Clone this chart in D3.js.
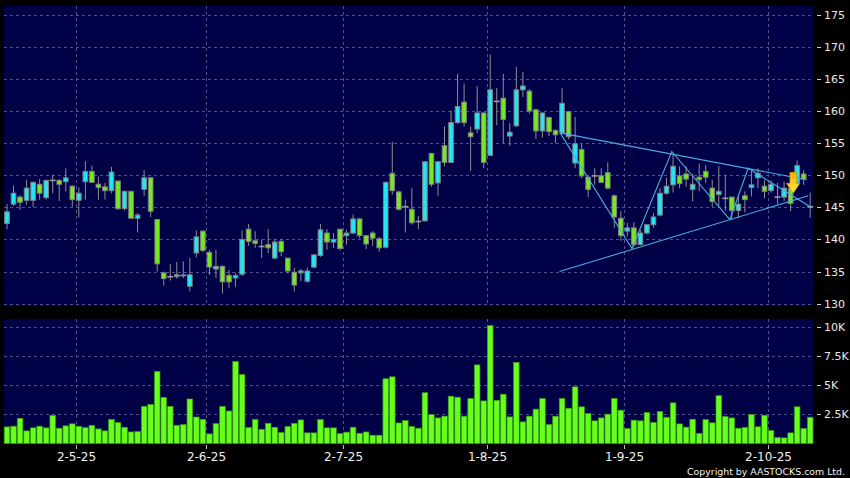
<!DOCTYPE html>
<html><head><meta charset="utf-8">
<script src="https://cdn.jsdelivr.net/npm/d3@7"></script>
<style>html,body{margin:0;padding:0;background:#000;}svg{display:block;}</style>
</head><body>
<svg id="chart" width="850" height="478"></svg>
<script>
const opens  = [142.5,145.5,146.6,146.1,146.1,148.6,146.5,149.2,149.2,149.0,148.3,146.1,149.0,150.6,148.6,148.2,147.6,149.1,144.8,147.5,143.3,147.8,149.6,143.1,134.8,134.2,134.2,134.4,132.7,137.9,141.3,138.0,135.4,135.8,134.4,134.0,134.6,141.6,139.8,138.9,139.2,137.1,139.7,137.1,134.9,134.8,133.5,135.7,137.5,141.0,139.6,141.6,140.6,141.0,143.2,140.6,141.0,140.1,138.8,150.3,147.4,145.1,144.7,142.8,142.9,153.4,148.8,154.6,152.0,158.2,161.4,156.6,157.2,159.7,153.1,161.5,162.0,156.1,157.7,163.3,163.1,160.2,156.9,159.0,157.0,156.6,159.9,151.9,154.0,149.7,149.9,149.9,150.4,146.8,143.3,141.3,141.8,139.2,141.0,142.3,143.8,147.2,148.5,149.9,150.2,147.8,149.7,150.6,148.0,147.0,146.4,146.6,144.5,146.8,148.1,149.6,148.3,147.6,146.6,146.6,148.0,148.8,150.2,145.1];
const highs  = [145.5,148.4,146.9,149.3,149.0,149.4,149.3,150.1,149.4,151.1,148.4,148.1,152.2,151.5,149.8,148.8,151.3,149.1,147.6,147.5,144.1,150.8,149.6,143.1,135.0,136.2,136.5,136.6,137.1,141.4,141.4,138.4,138.4,136.0,135.3,134.8,141.4,142.4,141.3,140.0,141.6,140.1,140.1,137.1,135.6,135.4,135.6,137.7,142.4,141.6,141.0,141.6,141.5,143.9,143.3,140.6,141.3,140.4,149.0,155.2,147.6,146.2,148.0,143.7,152.2,153.5,152.2,157.6,160.1,165.8,164.3,157.6,163.9,159.8,168.8,163.6,165.8,158.1,166.9,166.1,163.4,160.3,159.8,159.1,157.1,163.6,160.0,159.1,154.9,149.8,151.1,151.1,152.0,147.0,144.4,142.6,142.7,141.5,142.3,144.1,148.0,149.6,153.4,151.4,151.4,150.2,151.8,151.6,149.3,151.4,150.1,146.6,146.7,147.5,150.8,151.1,149.3,149.2,148.8,149.0,148.3,152.3,150.8,147.3];
const lows   = [141.6,145.2,144.6,145.4,145.0,146.2,146.2,147.2,146.0,147.5,145.1,143.4,146.2,148.8,146.2,146.2,147.2,144.6,144.5,143.3,141.1,146.8,143.5,135.0,132.8,133.6,133.9,134.0,131.9,137.2,138.0,134.5,134.0,131.6,132.4,132.6,134.3,139.0,138.7,137.1,137.9,136.9,137.4,134.7,131.9,133.5,133.3,135.5,137.3,138.4,138.7,138.3,139.2,140.9,140.2,138.5,139.0,138.1,138.6,147.0,144.5,141.1,142.3,141.6,142.8,148.2,146.8,151.4,151.9,158.0,157.6,150.7,156.6,151.1,153.0,157.8,155.0,154.6,157.5,162.2,159.6,155.6,155.9,156.1,155.0,156.4,155.6,151.1,149.5,146.6,148.5,148.8,147.8,141.8,139.8,140.5,138.8,139.1,140.8,141.8,143.6,147.0,147.3,148.0,148.2,145.9,147.5,148.8,145.1,145.1,144.5,143.1,143.3,144.2,146.7,148.0,146.4,147.3,145.5,146.0,144.4,148.5,148.5,143.4];
const closes = [144.3,147.2,145.8,148.0,148.9,147.2,149.2,149.2,148.6,149.6,146.2,147.2,150.6,148.9,148.1,147.6,150.5,144.8,147.5,143.3,143.8,149.6,144.4,136.2,133.9,134.2,134.5,134.4,134.5,140.4,138.3,135.7,135.8,133.4,133.4,134.4,140.0,139.7,139.4,138.9,138.7,139.6,138.1,135.1,132.9,135.1,135.1,137.6,141.5,139.6,140.0,138.6,141.0,143.2,140.6,139.3,140.2,138.7,148.9,147.6,144.7,145.1,142.6,142.8,152.1,148.6,152.1,152.0,158.2,160.7,158.2,156.0,159.7,152.0,163.3,161.5,158.7,156.7,163.3,163.9,160.0,156.9,159.7,156.8,156.3,161.2,156.0,154.9,149.9,147.8,149.9,148.9,148.0,143.5,140.6,141.8,139.2,141.0,142.3,143.5,147.2,148.3,151.4,148.7,149.4,148.6,149.3,149.7,145.9,147.5,146.4,144.5,145.5,146.2,148.5,150.3,147.5,148.6,146.6,148.0,145.6,151.5,149.4,145.1];
const volumesK = [1.42,1.48,2.16,1.08,1.34,1.48,1.34,2.41,1.31,1.51,1.68,1.48,1.36,1.56,1.25,1.08,2.07,1.79,1.39,0.99,1.02,3.18,3.35,6.17,3.95,3.18,1.56,1.62,3.81,2.27,2.07,0.82,1.70,3.18,2.78,7.02,5.91,1.36,2.07,1.22,1.73,1.39,0.94,1.45,1.73,2.02,0.91,0.91,2.05,1.34,1.34,0.85,0.97,1.39,0.88,0.99,0.71,0.71,5.54,5.71,1.76,1.96,1.45,1.31,4.35,2.47,2.19,2.34,4.05,3.96,2.34,3.85,6.73,3.65,10.1,3.7,4.22,2.28,6.95,1.85,2.34,2.94,3.85,1.62,2.34,3.85,3.02,4.85,3.14,2.57,1.94,2.19,2.51,3.85,2.85,1.28,2.0,1.94,2.65,1.80,2.74,2.25,3.48,1.68,1.40,2.08,0.86,2.05,1.77,4.10,2.31,2.19,1.31,1.37,2.48,1.43,2.42,1.11,0.51,0.48,0.91,3.14,1.28,2.25];
const dateTickLabels = ["2-5-25","2-6-25","2-7-25","1-8-25","1-9-25","2-10-25"];
const dateTickIndex  = [11,31,52,74,95,117];
const priceTicks = [130,135,140,145,150,155,160,165,170,175];
const volumeTicks = [2.5,5,7.5,10];
const volumeTickLabels = ["2.5K","5K","7.5K","10K"];
// pattern lines: [index, price]
const upperTrend = [[84.7,156.6],[122.5,149.3]];
const lowerTrend = [[84.6,135.0],[122.7,146.8]];
const zigzag = [[84.7,156.6],[95.7,138.6],[101.8,153.7],[110.7,143.1],[113.5,151.1],[123.3,144.9]];
const signalIndex = 120, signalPrice = 147.2;

const n = opens.length;
const svg = d3.select("#chart");
const W = 850, H = 478;
const P = {left:4, right:814, top:6, bottom:306};
const V = {top:319, bottom:444};

const x = d3.scaleLinear().domain([0, n-1]).range([7, 810.2]);
const y = d3.scaleLinear().domain([130,175]).range([303.7, 14.7]);
const yv = d3.scaleLinear().domain([0,10]).range([443.5, 326.7]);

const BG = "#000046", GRID = "#50508c";
svg.append("rect").attr("width",W).attr("height",H).attr("fill","#000");
svg.append("rect").attr("x",P.left).attr("y",P.top).attr("width",P.right-P.left).attr("height",P.bottom-P.top).attr("fill",BG);
svg.append("rect").attr("x",P.left).attr("y",V.top).attr("width",P.right-P.left).attr("height",V.bottom-V.top).attr("fill",BG);

const grid = svg.append("g").attr("stroke",GRID).attr("stroke-width",1).attr("stroke-dasharray","3,3").attr("shape-rendering","crispEdges");
priceTicks.forEach(t=>{
  grid.append("line").attr("x1",P.left).attr("x2",P.right).attr("y1",Math.round(y(t))+0.5).attr("y2",Math.round(y(t))+0.5);
});
volumeTicks.forEach(t=>{
  grid.append("line").attr("x1",P.left).attr("x2",P.right).attr("y1",Math.round(yv(t))+0.5).attr("y2",Math.round(yv(t))+0.5);
});
dateTickIndex.forEach(i=>{
  const gx = Math.round(x(i-0.5))+0.5;
  grid.append("line").attr("x1",gx).attr("x2",gx).attr("y1",P.top).attr("y2",P.bottom);
  grid.append("line").attr("x1",gx).attr("x2",gx).attr("y1",V.top).attr("y2",V.bottom);
});

// right price axis
const axisG = svg.append("g").attr("font-family","DejaVu Sans, Verdana, sans-serif").attr("font-size",11).attr("fill","#e8e8e8");
priceTicks.forEach(t=>{
  axisG.append("line").attr("x1",817).attr("x2",821).attr("y1",Math.round(y(t))+0.5).attr("y2",Math.round(y(t))+0.5).attr("stroke","#cfcfcf");
  axisG.append("text").attr("x",824).attr("y",y(t)).attr("dy","0.36em").text(t);
});
volumeTicks.forEach((t,k)=>{
  axisG.append("line").attr("x1",817).attr("x2",821).attr("y1",Math.round(yv(t))+0.5).attr("y2",Math.round(yv(t))+0.5).attr("stroke","#cfcfcf");
  axisG.append("text").attr("x",824).attr("y",yv(t)).attr("dy","0.36em").text(volumeTickLabels[k]);
});
// date axis
const dAx = svg.append("g").attr("font-family","DejaVu Sans, Verdana, sans-serif").attr("font-size",12).attr("fill","#f0f0f0");
dateTickIndex.forEach((i,k)=>{
  const gx = Math.round(x(i-0.5))+0.5;
  dAx.append("line").attr("x1",gx).attr("x2",gx).attr("y1",445).attr("y2",449).attr("stroke","#bdbdbd");
  dAx.append("text").attr("x",gx).attr("y",461).attr("text-anchor","middle").text(dateTickLabels[k]);
});
svg.append("text").attr("x",845).attr("y",475).attr("text-anchor","end")
  .attr("font-family","DejaVu Sans, Verdana, sans-serif").attr("font-size",9.5).attr("fill","#f0f0f0")
  .attr("textLength",158).attr("lengthAdjust","spacingAndGlyphs").text("Copyright by AASTOCKS.com Ltd.");

// volume bars
const vb = svg.append("g");
volumesK.forEach((v,i)=>{
  vb.append("rect").attr("x",x(i)-2.8).attr("y",yv(v)).attr("width",5.6).attr("height",yv(0)-yv(v))
    .attr("fill","#66ff1e").attr("stroke","#3a9c10").attr("stroke-width",0.7);
});

// candles
const cg = svg.append("g");
const CYAN = "#22e6f4", GREEN = "#76ea1e";
for (let i=0;i<n;i++){
  const o=opens[i], c=closes[i], h=highs[i], l=lows[i], cx=x(i);
  cg.append("line").attr("x1",cx).attr("x2",cx).attr("y1",y(h)).attr("y2",y(l)).attr("stroke","#8e8e8e").attr("stroke-width",1);
  if (o===c){
    cg.append("line").attr("x1",cx-3).attr("x2",cx+3).attr("y1",y(o)).attr("y2",y(o)).attr("stroke","#9a9a9a").attr("stroke-width",1.6);
  } else {
    const top = y(Math.max(o,c)), bot = y(Math.min(o,c));
    cg.append("rect").attr("x",cx-2.3).attr("y",top).attr("width",4.6).attr("height",Math.max(bot-top,1.2))
      .attr("fill", c>o ? CYAN : GREEN).attr("stroke","#808080").attr("stroke-width",1);
  }
}

// pattern lines
const line = d3.line().x(d=>x(d[0])).y(d=>y(d[1]));
const pl = svg.append("g").attr("fill","none").attr("stroke","#48acdf").attr("stroke-width",1.1);
pl.append("path").attr("d",line(upperTrend));
pl.append("path").attr("d",line(lowerTrend));
pl.append("path").attr("d",line(zigzag));

// signal arrow
const defs = svg.append("defs");
const gr = defs.append("linearGradient").attr("id","ag").attr("x1",0).attr("x2",0).attr("y1",0).attr("y2",1);
gr.append("stop").attr("offset","0%").attr("stop-color","#ffb000");
gr.append("stop").attr("offset","100%").attr("stop-color","#ffe84a");
const ax = x(signalIndex)+2.6, ay = y(signalPrice);
svg.append("path")
  .attr("d",`M${ax-3.3},${ay-21} L${ax+3.3},${ay-21} L${ax+3.3},${ay-10} L${ax+6.8},${ay-10} L${ax},${ay} L${ax-6.8},${ay-10} L${ax-3.3},${ay-10} Z`)
  .attr("fill","url(#ag)").attr("stroke","#c98a00").attr("stroke-width",0.6);
</script>
</body></html>
